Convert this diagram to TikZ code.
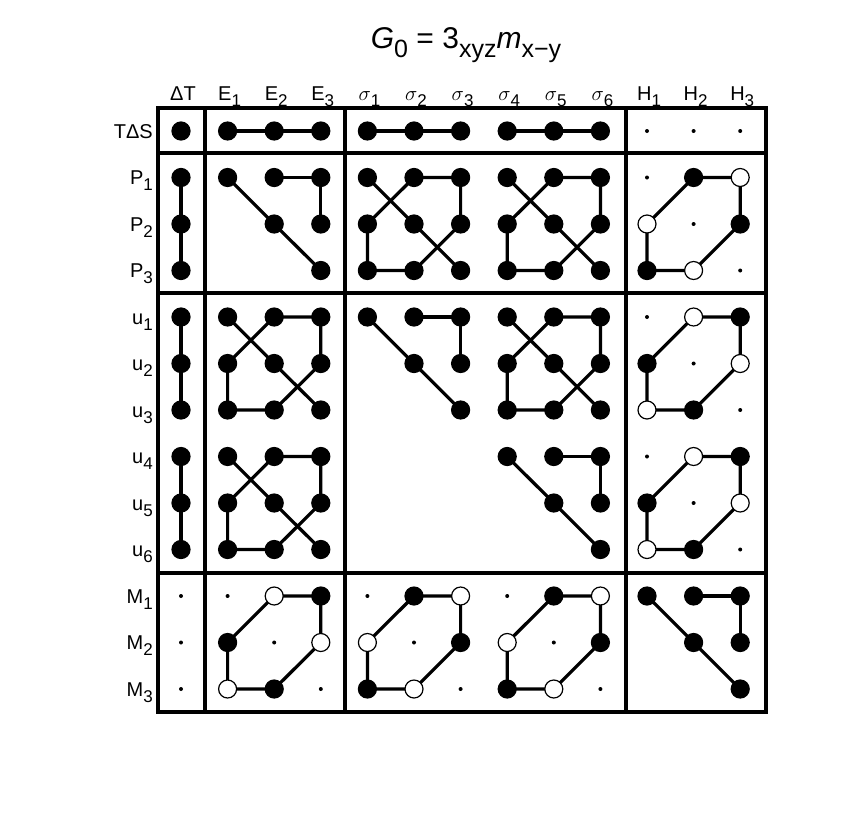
\documentclass[tikz,border=0pt]{standalone}
\usepackage{fontspec}
\setmainfont{Liberation Sans}
\tikzset{
  edge/.style={line width=3.2pt},
  frame/.style={line width=3.2pt},
  fil/.style={circle,fill=black,draw=black,line width=1.2pt,minimum size=18pt,inner sep=0pt},
  opn/.style={circle,fill=white,draw=black,line width=1.2pt,minimum size=18pt,inner sep=0pt},
  sml/.style={circle,fill=black,minimum size=4pt,inner sep=0pt},
  lbl/.style={font=\fontsize{20}{22}\selectfont,inner sep=0pt}
}
\newcommand\lsub[1]{\raisebox{-6pt}{\fontsize{17}{17}\selectfont#1}}
\newcommand\tsub[1]{\raisebox{-9pt}{\fontsize{25}{25}\selectfont#1}}
% coordinates b11..b33 of the 3x3 block whose first cell is (#1,#2)
\newcommand\setblock[2]{%
  \foreach \a in {1,2,3}{\foreach \b in {1,2,3}{%
    \coordinate (b\a\b) at ({181+46.6*(#1+\a-1)},{-131-46.5*(#2+\b-1)});}}}
\newcommand\hexedges{\draw[edge] (b21)--(b31)--(b32)--(b23)--(b13)--(b12)--cycle;}
\newcommand\fullblock{%
  \hexedges \draw[edge] (b11)--(b22)--(b33);
  \foreach \p in {11,21,31,12,22,32,13,23,33}{\node[fil] at (b\p) {};}}
\newcommand\halfblock{%
  \draw[edge] (b21)--(b31)--(b32); \draw[edge] (b11)--(b22)--(b33);
  \foreach \p in {11,21,31,22,32,33}{\node[fil] at (b\p) {};}}
\newcommand\ringblock[2]{%
  \hexedges
  \foreach \p in {11,22,33}{\node[sml] at (b\p) {};}
  \foreach \p in {21,32,13}{\node[#1] at (b\p) {};}
  \foreach \p in {31,12,23}{\node[#2] at (b\p) {};}}
\begin{document}
\begin{tikzpicture}[x=1pt,y=1pt]
  \useasboundingbox (0,0) rectangle (856,-812);
  % title
  \node[font=\fontsize{30}{32}\selectfont,anchor=base] (title) at (466,-48)
    {\textit{G}\tsub{0} = 3\tsub{xyz}\textit{m}\tsub{x−y}};
  % column labels
  \foreach \t [count=\i from 0] in {ΔT,E\lsub{1},E\lsub{2},E\lsub{3},
      $\sigma$\lsub{1},$\sigma$\lsub{2},$\sigma$\lsub{3},
      $\sigma$\lsub{4},$\sigma$\lsub{5},$\sigma$\lsub{6},
      H\lsub{1},H\lsub{2},H\lsub{3}}
    \node[lbl,anchor=base] (col\i) at ({183+46.6*\i},-100) {\t};
  % row labels
  \foreach \t [count=\j from 0] in {TΔS,P\lsub{1},P\lsub{2},P\lsub{3},
      u\lsub{1},u\lsub{2},u\lsub{3},u\lsub{4},u\lsub{5},u\lsub{6},
      M\lsub{1},M\lsub{2},M\lsub{3}}
    \node[lbl,anchor=base east] (row\j) at (153,{-138-46.5*\j}) {\t};
  % frame
  \draw[frame] (158,-108) rectangle (766,-712);
  \foreach \x in {205,345,626} \draw[frame] (\x,-108) -- (\x,-712);
  \foreach \y in {-153,-293,-573} \draw[frame] (158,\y) -- (766,\y);
  % T Delta S row
  \setblock{0}{0} \node[fil] at (b11) {};
  \foreach \c in {1,4,7}{\setblock{\c}{0}
    \draw[edge] (b11)--(b21)--(b31);
    \foreach \p in {11,21,31}{\node[fil] at (b\p) {};}}
  \setblock{10}{0} \foreach \p in {11,21,31}{\node[sml] at (b\p) {};}
  % Delta T column
  \foreach \r in {1,4,7}{\setblock{0}{\r}
    \draw[edge] (b11)--(b12)--(b13);
    \foreach \p in {11,12,13}{\node[fil] at (b\p) {};}}
  \setblock{0}{10} \foreach \p in {11,12,13}{\node[sml] at (b\p) {};}
  % P rows
  \setblock{1}{1} \halfblock
  \setblock{4}{1} \fullblock
  \setblock{7}{1} \fullblock
  \setblock{10}{1} \ringblock{fil}{opn}
  % u rows
  \setblock{1}{4} \fullblock
  \setblock{4}{4} \halfblock
  \setblock{7}{4} \fullblock
  \setblock{10}{4} \ringblock{opn}{fil}
  \setblock{1}{7} \fullblock
  \setblock{7}{7} \halfblock
  \setblock{10}{7} \ringblock{opn}{fil}
  % M rows
  \setblock{1}{10} \ringblock{opn}{fil}
  \setblock{4}{10} \ringblock{fil}{opn}
  \setblock{7}{10} \ringblock{fil}{opn}
  \setblock{10}{10} \halfblock
\end{tikzpicture}
\end{document}
